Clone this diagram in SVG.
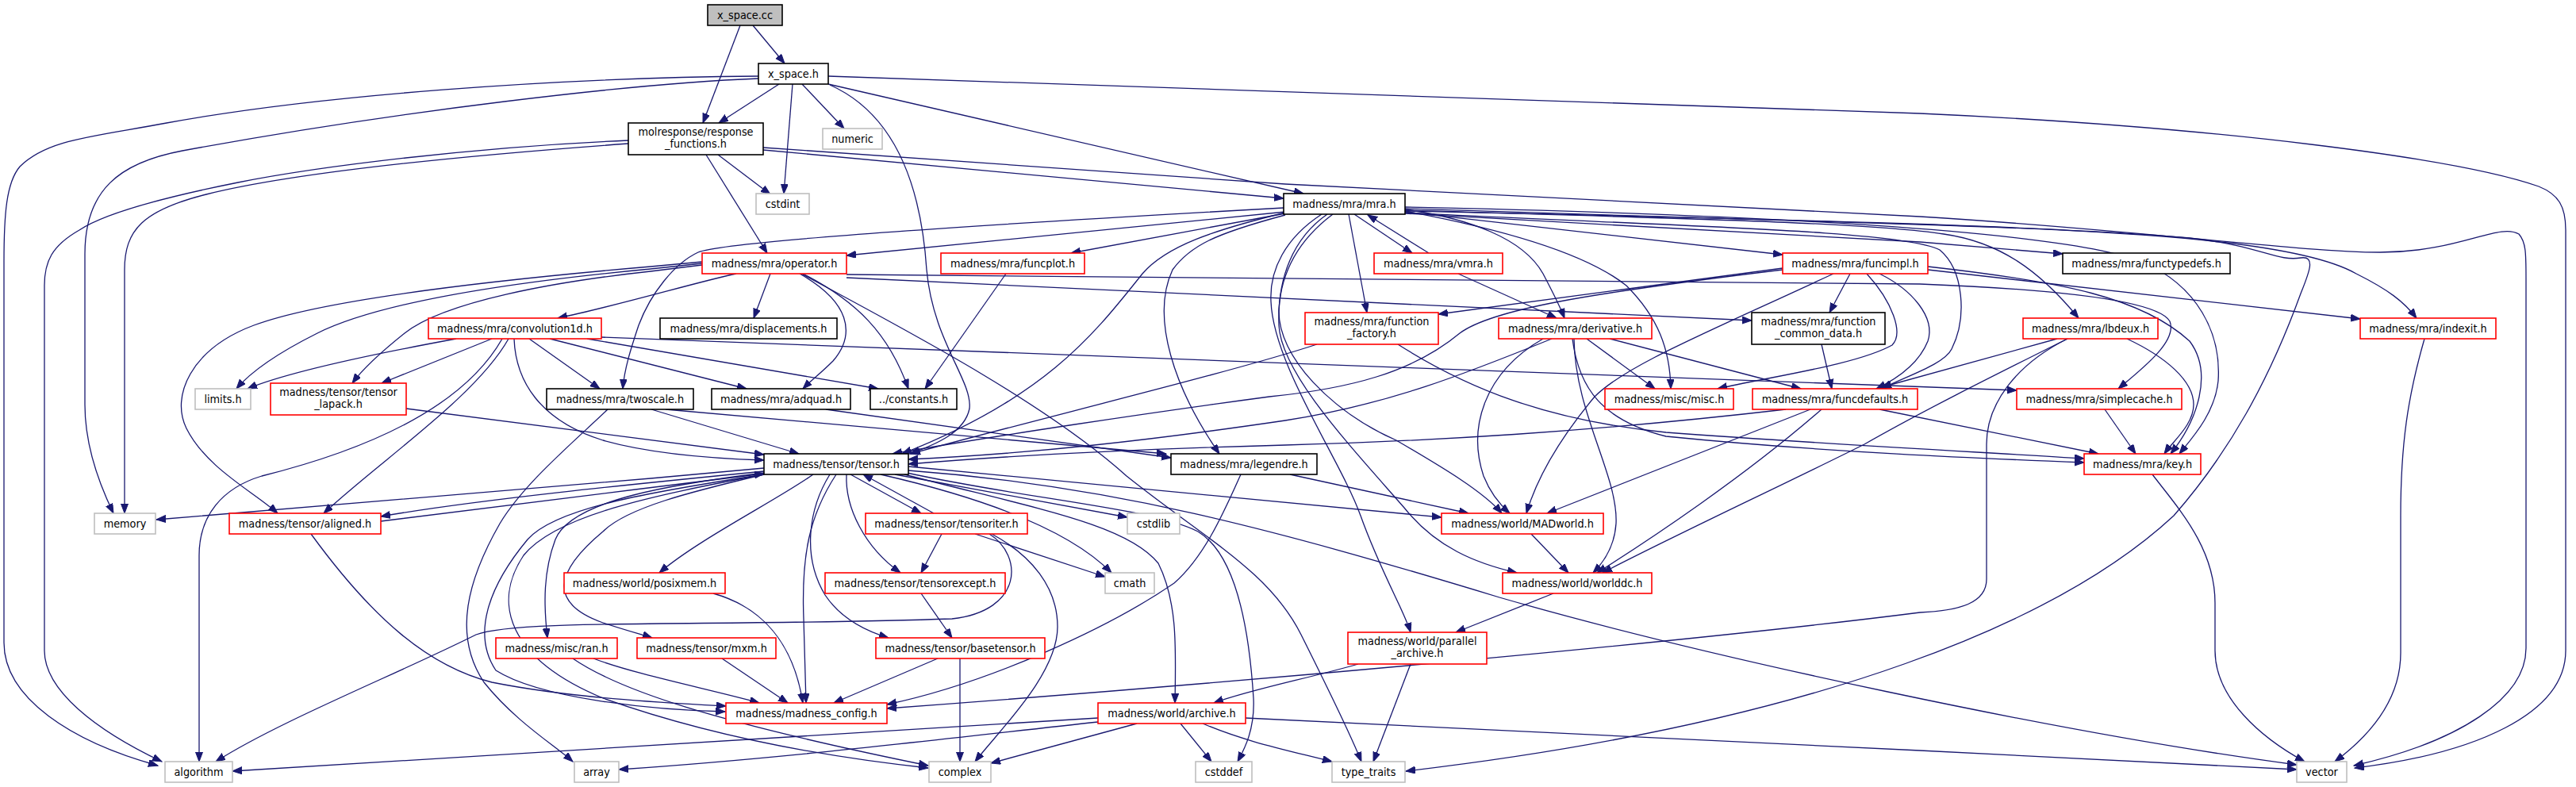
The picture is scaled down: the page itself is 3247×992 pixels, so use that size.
<svg xmlns="http://www.w3.org/2000/svg" width="3247" height="992" viewBox="0 0 3247 992">
<defs>
<style>
rect{fill:#fff;stroke-width:1.6}
.k rect{stroke:#000}
.r rect{stroke:#ff0000}
.g rect{stroke:#bfbfbf}
text{font-family:"DejaVu Sans Condensed","DejaVu Sans",sans-serif;font-size:14.3px;text-anchor:middle;fill:#000}
#edges path{fill:none;stroke:#191970;stroke-width:1.3;marker-end:url(#a)}
</style>
<marker id="a" markerUnits="userSpaceOnUse" markerWidth="14" markerHeight="11" refX="12" refY="4.5" orient="auto"><path d="M0,0L12,4.5L0,9z" fill="#191970" stroke="#191970" stroke-width="1"/></marker>
</defs>
<rect x="0" y="0" width="3247" height="992" fill="#fff" stroke="none"/>
<g id="edges">
<path d="M949,32 L989,80"/>
<path d="M933,32 L886,155"/>
<path d="M982,106 L906,155"/>
<path d="M1011,106 L1064,162"/>
<path d="M999,106 L988,244"/>
<path d="M1044,106 L1643,244"/>
<path d="M1046,107 C1120,140 1160,220 1168,340 C1176,430 1226,480 1222,515 C1216,545 1180,560 1147,572"/>
<path d="M956,99 C800,105 500,140 230,190 C150,205 107,240 107,320 L107,510 C107,560 125,610 143,647"/>
<path d="M956,96 C700,98 400,120 210,155 C120,172 60,175 25,210 C8,230 5,270 5,330 L5,810 C5,880 90,935 199,965"/>
<path d="M1044,96 L2420,143 C2800,160 3100,200 3200,235 C3225,245 3234,260 3234,290 L3234,820 C3234,900 3120,950 2968,968"/>
<path d="M905,195 L971,245"/>
<path d="M890,195 L967,319"/>
<path d="M962,189 L1618,250"/>
<path d="M792,181 C600,195 380,215 260,245 C180,265 157,290 157,340 L157,647"/>
<path d="M792,177 C600,185 400,210 300,230 C200,250 130,270 100,290 C65,310 56,330 56,360 L56,820 C56,870 120,920 204,960"/>
<path d="M962,186 L1620,232 L2420,273 C2700,290 2900,318 3000,318 C3100,318 3150,280 3175,295 C3184,305 3184,320 3184,350 L3184,817 C3184,880 3100,935 2967,965"/>
<path d="M1620,267 L1067,322"/>
<path d="M1618,262 C1200,285 910,305 880,318 C850,332 820,370 805,410 C795,440 787,465 785,490"/>
<path d="M1620,269 L1350,319"/>
<path d="M1707,270 L1780,319"/>
<path d="M1801,319 L1724,271"/>
<path d="M1771,267 L2247,321"/>
<path d="M1771,269 L2420,305 L2600,320"/>
<path d="M1771,263 L2420,283 C2700,292 2900,305 2970,345 C3010,365 3030,380 3046,401"/>
<path d="M1771,265 C2100,275 2350,280 2450,295 C2520,305 2570,340 2620,401"/>
<path d="M1771,261 C2200,270 2600,290 2700,330 C2770,360 2800,420 2796,480 C2792,520 2765,550 2747,572"/>
<path d="M1700,270 L1723,394"/>
<path d="M1771,264 C1850,275 1920,300 1945,345 C1958,370 1966,385 1972,401"/>
<path d="M1771,266 C1900,290 2000,320 2050,360 C2090,400 2105,440 2106,490"/>
<path d="M1771,268 C2100,285 2400,290 2445,315 C2475,340 2480,400 2460,440 C2450,460 2400,475 2372,490"/>
<path d="M1680,270 C1640,300 1615,340 1612,390 C1610,450 1680,520 1760,555 C1820,590 1870,620 1893,647"/>
<path d="M1673,270 C1630,300 1610,350 1612,410 C1615,470 1700,560 1770,640 C1810,690 1860,710 1912,722"/>
<path d="M1666,270 C1620,300 1600,340 1602,380 C1605,460 1690,580 1715,650 C1740,720 1770,770 1778,797"/>
<path d="M1620,268 C1530,290 1470,310 1440,345 C1380,420 1320,500 1137,572"/>
<path d="M1620,271 C1530,295 1500,310 1478,340 C1450,400 1480,490 1537,572"/>
<path d="M1771,266 C2200,275 2600,285 2760,300 C2850,310 2870,330 2900,325 C2920,322 2910,345 2900,370 C2860,480 2810,570 2740,650 C2600,780 2300,910 1772,972"/>
<path d="M1838,345 L1962,401"/>
<path d="M928,345 C880,355 780,385 703,401"/>
<path d="M971,345 L950,401"/>
<path d="M1008,345 C1070,380 1080,420 1050,455 C1035,470 1022,480 1012,490"/>
<path d="M1012,345 C1080,380 1120,420 1145,490"/>
<path d="M1010,345 C1150,420 1320,510 1420,600 C1520,680 1600,720 1640,800 C1670,860 1700,920 1716,960"/>
<path d="M885,334 L820,342 C700,355 560,380 510,420 C475,448 455,468 444,483"/>
<path d="M885,332 L820,339 C650,355 480,380 400,420 C350,445 315,470 298,490"/>
<path d="M885,330 L820,336 C600,355 400,380 320,410 C240,440 215,500 235,540 C260,590 320,620 350,647"/>
<path d="M1067,350 L2208,404"/>
<path d="M1067,346 L2420,358 C2600,365 2720,380 2735,405 C2745,430 2700,465 2670,490"/>
<path d="M2430,340 L2975,402"/>
<path d="M575,427 C450,450 360,470 312,490"/>
<path d="M620,427 L481,483"/>
<path d="M667,427 L756,490"/>
<path d="M693,427 L941,490"/>
<path d="M740,427 L1107,490"/>
<path d="M758,425 C1200,445 2000,470 2542,492"/>
<path d="M648,427 C650,480 680,530 760,555 C820,572 900,578 963,580"/>
<path d="M641,427 C600,500 480,580 408,647"/>
<path d="M633,427 C580,520 450,570 330,600 C280,615 251,650 251,700 L251,960"/>
<path d="M512,515 L963,573"/>
<path d="M821,516 L1007,572"/>
<path d="M839,516 L1470,572"/>
<path d="M1041,516 L1476,577"/>
<path d="M766,516 C720,560 660,610 630,660 C590,730 570,800 610,860 C650,910 700,940 722,960"/>
<path d="M963,590 L820,603 L197,655"/>
<path d="M963,594 C800,610 600,630 480,651"/>
<path d="M480,657 C600,642 800,617 963,597"/>
<path d="M1128,598 L1421,652"/>
<path d="M1110,598 C1250,630 1350,670 1401,722"/>
<path d="M1072,598 L1161,647"/>
<path d="M1177,647 L1088,598"/>
<path d="M1067,598 C1065,640 1090,690 1135,722"/>
<path d="M1046,598 C1020,640 1010,700 1040,750 C1060,780 1090,795 1120,804"/>
<path d="M1054,598 C1020,650 1010,700 1013,780 L1016,886"/>
<path d="M1025,598 C980,630 880,680 831,722"/>
<path d="M1140,598 C1300,640 1420,660 1460,710 C1485,760 1482,820 1481,886"/>
<path d="M1143,596 C1300,630 1450,640 1510,670 C1560,700 1575,800 1580,880 C1582,920 1568,945 1560,960"/>
<path d="M1145,593 C1400,612 1600,665 1890,753 C2150,828 2600,925 2895,964"/>
<path d="M1145,588 L1817,652"/>
<path d="M963,596 C850,610 720,630 700,680 C685,720 685,760 690,804"/>
<path d="M963,598 C870,620 790,640 760,670 C700,720 690,760 760,785 C790,795 810,800 822,804"/>
<path d="M963,598 C820,620 700,640 665,680 C615,740 595,800 625,845 C680,880 820,895 914,897"/>
<path d="M963,598 C820,625 700,650 660,700 C620,760 640,830 760,880 C900,930 1050,955 1170,968"/>
<path d="M1187,673 L1161,722"/>
<path d="M1229,673 L1393,727"/>
<path d="M1250,673 C1300,700 1333,740 1333,790 C1333,850 1260,920 1229,960"/>
<path d="M1247,673 C1290,700 1290,770 1200,780 C900,790 650,780 600,800 C500,850 350,910 272,960"/>
<path d="M1161,748 L1200,804"/>
<path d="M1182,830 L1051,886"/>
<path d="M1210,830 L1210,960"/>
<path d="M899,748 C960,765 1000,810 1012,886"/>
<path d="M910,830 L993,886"/>
<path d="M748,830 C800,850 900,870 957,886"/>
<path d="M722,830 C780,870 900,910 1170,965"/>
<path d="M392,673 C470,780 540,840 620,860 C720,880 840,886 915,890"/>
<path d="M1384,905 L293,972"/>
<path d="M1384,910 C1200,930 1000,955 780,970"/>
<path d="M1433,912 L1249,962"/>
<path d="M1488,912 L1527,960"/>
<path d="M1516,912 C1570,935 1620,945 1679,960"/>
<path d="M1570,905 L2420,946 L2895,970"/>
<path d="M1712,837 C1650,855 1580,868 1530,886"/>
<path d="M1778,837 L1731,960"/>
<path d="M1958,748 L1835,797"/>
<path d="M1930,673 L1977,722"/>
<path d="M1984,427 C1985,520 2040,600 2037,660 C2035,690 2020,710 2008,722"/>
<path d="M1945,427 C1870,470 1850,540 1870,600 C1880,625 1895,640 1903,647"/>
<path d="M2311,345 C2150,420 2050,460 2010,500 C1960,560 1935,610 1924,647"/>
<path d="M2282,516 L1950,647"/>
<path d="M2296,516 C2200,600 2080,680 2013,722"/>
<path d="M2606,427 C2500,480 2420,520 2350,560 C2250,610 2100,680 2020,722"/>
<path d="M1626,598 L1851,647"/>
<path d="M1564,598 C1545,640 1520,700 1480,735 C1400,790 1250,860 1118,888"/>
<path d="M2606,427 C2540,460 2504,510 2504,560 L2504,730 C2504,760 2470,770 2420,772 C2200,800 1700,850 1118,893"/>
<path d="M2681,427 C2730,450 2765,480 2765,510 C2765,535 2740,555 2728,572"/>
<path d="M2593,427 L2372,488"/>
<path d="M2653,516 L2692,572"/>
<path d="M3056,427 C3035,500 3026,560 3026,650 L3026,823 C3026,880 2990,925 2943,960"/>
<path d="M2713,598 C2745,640 2792,690 2792,760 L2792,820 C2792,880 2850,930 2905,960"/>
<path d="M2247,338 L1813,396"/>
<path d="M2332,345 L2306,394"/>
<path d="M2353,345 C2385,380 2400,420 2385,435 C2340,460 2230,475 2165,490"/>
<path d="M2369,345 C2410,365 2440,400 2430,430 C2418,460 2390,478 2365,490"/>
<path d="M2247,340 C2000,370 1880,390 1840,420 C1780,470 1700,490 1600,500 C1450,520 1250,550 1125,572"/>
<path d="M2430,336 C2600,355 2700,375 2760,430 C2790,470 2770,530 2736,572"/>
<path d="M2296,434 L2309,490"/>
<path d="M2000,427 L2086,490"/>
<path d="M2029,427 L2270,490"/>
<path d="M1982,427 C1990,490 2020,530 2100,550 C2300,570 2500,578 2627,583"/>
<path d="M1956,427 C1850,470 1750,510 1620,530 C1450,555 1300,572 1145,579"/>
<path d="M1762,434 C1850,490 1950,530 2100,545 C2300,560 2500,570 2627,578"/>
<path d="M1660,434 C1550,470 1300,530 1148,572"/>
<path d="M2251,516 C2000,545 1800,556 1620,561 C1400,567 1250,576 1145,585"/>
<path d="M2369,516 L2645,572"/>
<path d="M1268,345 L1166,490"/>
</g>
<g id="n_cc" class="k"><rect x="892" y="6" width="94" height="26" style="fill:#bfbfbf"/><text x="939" y="24">x_space.cc</text></g>
<g id="n_xsh" class="k"><rect x="956" y="80" width="88" height="26"/><text x="1000" y="98">x_space.h</text></g>
<g id="n_resp" class="k"><rect x="792" y="155" width="170" height="40"/><text x="877" y="171">molresponse/response</text><text x="877" y="186">_functions.h</text></g>
<g id="n_numeric" class="g"><rect x="1037" y="162" width="75" height="26"/><text x="1074.5" y="180">numeric</text></g>
<g id="n_cstdint" class="g"><rect x="953" y="244" width="67" height="26"/><text x="986.5" y="262">cstdint</text></g>
<g id="n_mra" class="k"><rect x="1618" y="244" width="153" height="26"/><text x="1694.5" y="262">madness/mra/mra.h</text></g>
<g id="n_operator" class="r"><rect x="885" y="319" width="182" height="26"/><text x="976" y="337">madness/mra/operator.h</text></g>
<g id="n_funcplot" class="r"><rect x="1186" y="319" width="181" height="26"/><text x="1276.5" y="337">madness/mra/funcplot.h</text></g>
<g id="n_vmra" class="r"><rect x="1732" y="319" width="162" height="26"/><text x="1813" y="337">madness/mra/vmra.h</text></g>
<g id="n_funcimpl" class="r"><rect x="2247" y="319" width="183" height="26"/><text x="2338.5" y="337">madness/mra/funcimpl.h</text></g>
<g id="n_functypedefs" class="k"><rect x="2600" y="319" width="211" height="26"/><text x="2705.5" y="337">madness/mra/functypedefs.h</text></g>
<g id="n_conv" class="r"><rect x="540" y="401" width="218" height="26"/><text x="649" y="419">madness/mra/convolution1d.h</text></g>
<g id="n_displacements" class="k"><rect x="832" y="401" width="223" height="26"/><text x="943.5" y="419">madness/mra/displacements.h</text></g>
<g id="n_ffactory" class="r"><rect x="1645" y="394" width="168" height="40"/><text x="1729" y="410">madness/mra/function</text><text x="1729" y="425">_factory.h</text></g>
<g id="n_derivative" class="r"><rect x="1889" y="401" width="193" height="26"/><text x="1985.5" y="419">madness/mra/derivative.h</text></g>
<g id="n_fcommon" class="k"><rect x="2208" y="394" width="168" height="40"/><text x="2292" y="410">madness/mra/function</text><text x="2292" y="425">_common_data.h</text></g>
<g id="n_lbdeux" class="r"><rect x="2550" y="401" width="170" height="26"/><text x="2635" y="419">madness/mra/lbdeux.h</text></g>
<g id="n_indexit" class="r"><rect x="2975" y="401" width="171" height="26"/><text x="3060.5" y="419">madness/mra/indexit.h</text></g>
<g id="n_limits" class="g"><rect x="246" y="490" width="70" height="26"/><text x="281" y="508">limits.h</text></g>
<g id="n_tlapack" class="r"><rect x="341" y="483" width="171" height="40"/><text x="426.5" y="499">madness/tensor/tensor</text><text x="426.5" y="514">_lapack.h</text></g>
<g id="n_twoscale" class="k"><rect x="689" y="490" width="185" height="26"/><text x="781.5" y="508">madness/mra/twoscale.h</text></g>
<g id="n_adquad" class="k"><rect x="897" y="490" width="175" height="26"/><text x="984.5" y="508">madness/mra/adquad.h</text></g>
<g id="n_constants" class="k"><rect x="1097" y="490" width="109" height="26"/><text x="1151.5" y="508">../constants.h</text></g>
<g id="n_misc" class="r"><rect x="2023" y="490" width="162" height="26"/><text x="2104" y="508">madness/misc/misc.h</text></g>
<g id="n_funcdefaults" class="r"><rect x="2209" y="490" width="208" height="26"/><text x="2313" y="508">madness/mra/funcdefaults.h</text></g>
<g id="n_simplecache" class="r"><rect x="2542" y="490" width="208" height="26"/><text x="2646" y="508">madness/mra/simplecache.h</text></g>
<g id="n_tensor" class="k"><rect x="963" y="572" width="182" height="26"/><text x="1054" y="590">madness/tensor/tensor.h</text></g>
<g id="n_legendre" class="k"><rect x="1476" y="572" width="184" height="26"/><text x="1568" y="590">madness/mra/legendre.h</text></g>
<g id="n_key" class="r"><rect x="2627" y="572" width="147" height="26"/><text x="2700.5" y="590">madness/mra/key.h</text></g>
<g id="n_memory" class="g"><rect x="119" y="647" width="77" height="26"/><text x="157.5" y="665">memory</text></g>
<g id="n_aligned" class="r"><rect x="289" y="647" width="191" height="26"/><text x="384.5" y="665">madness/tensor/aligned.h</text></g>
<g id="n_madworld" class="r"><rect x="1817" y="647" width="204" height="26"/><text x="1919" y="665">madness/world/MADworld.h</text></g>
<g id="n_tensoriter" class="r"><rect x="1091" y="647" width="204" height="26"/><text x="1193" y="665">madness/tensor/tensoriter.h</text></g>
<g id="n_cstdlib" class="g"><rect x="1421" y="647" width="66" height="26"/><text x="1454" y="665">cstdlib</text></g>
<g id="n_posixmem" class="r"><rect x="711" y="722" width="203" height="26"/><text x="812.5" y="740">madness/world/posixmem.h</text></g>
<g id="n_tensorexcept" class="r"><rect x="1040" y="722" width="227" height="26"/><text x="1153.5" y="740">madness/tensor/tensorexcept.h</text></g>
<g id="n_cmath" class="g"><rect x="1393" y="722" width="62" height="26"/><text x="1424" y="740">cmath</text></g>
<g id="n_worlddc" class="r"><rect x="1894" y="722" width="188" height="26"/><text x="1988" y="740">madness/world/worlddc.h</text></g>
<g id="n_ran" class="r"><rect x="625" y="804" width="153" height="26"/><text x="701.5" y="822">madness/misc/ran.h</text></g>
<g id="n_mxm" class="r"><rect x="803" y="804" width="175" height="26"/><text x="890.5" y="822">madness/tensor/mxm.h</text></g>
<g id="n_basetensor" class="r"><rect x="1104" y="804" width="213" height="26"/><text x="1210.5" y="822">madness/tensor/basetensor.h</text></g>
<g id="n_parallel" class="r"><rect x="1699" y="797" width="175" height="40"/><text x="1786.5" y="813">madness/world/parallel</text><text x="1786.5" y="828">_archive.h</text></g>
<g id="n_config" class="r"><rect x="915" y="886" width="203" height="26"/><text x="1016.5" y="904">madness/madness_config.h</text></g>
<g id="n_archive" class="r"><rect x="1384" y="886" width="186" height="26"/><text x="1477" y="904">madness/world/archive.h</text></g>
<g id="n_algorithm" class="g"><rect x="208" y="960" width="85" height="26"/><text x="250.5" y="978">algorithm</text></g>
<g id="n_array" class="g"><rect x="724" y="960" width="56" height="26"/><text x="752" y="978">array</text></g>
<g id="n_complex" class="g"><rect x="1171" y="960" width="78" height="26"/><text x="1210" y="978">complex</text></g>
<g id="n_cstddef" class="g"><rect x="1507" y="960" width="71" height="26"/><text x="1542.5" y="978">cstddef</text></g>
<g id="n_type_traits" class="g"><rect x="1679" y="960" width="92" height="26"/><text x="1725" y="978">type_traits</text></g>
<g id="n_vector" class="g"><rect x="2895" y="960" width="63" height="26"/><text x="2926.5" y="978">vector</text></g>
</svg>
